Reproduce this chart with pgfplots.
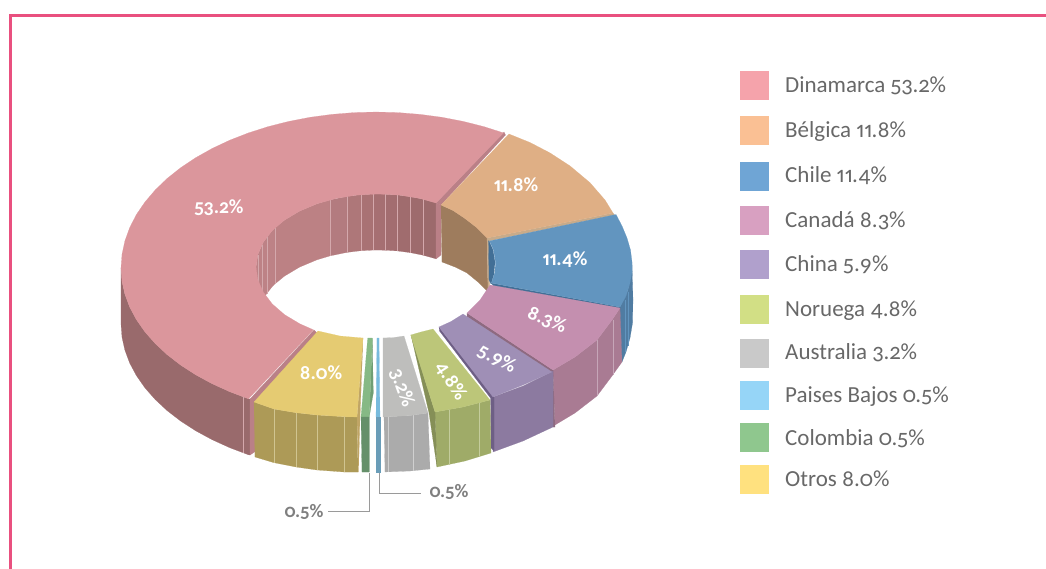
\documentclass[border=0pt]{standalone}
\usepackage{fontspec}
\setmainfont[Numbers={OldStyle,Proportional}]{Carlito}
\usepackage{pgfplots}
\pgfplotsset{compat=1.18}
\definecolor{frame}{HTML}{E9507F}
\definecolor{dtop}{HTML}{DB969C}\definecolor{dwall}{HTML}{996A6C}\definecolor{dcap}{HTML}{BA8087}\definecolor{dline}{HTML}{D4A8AC}
\definecolor{btop}{HTML}{DFAF85}\definecolor{bwall}{HTML}{9E7C5D}\definecolor{bcap}{HTML}{C8AB8A}
\definecolor{ctop}{HTML}{6295BF}\definecolor{cwall}{HTML}{507CA2}\definecolor{ccap}{HTML}{426F96}
\definecolor{atop}{HTML}{C48FAF}\definecolor{awall}{HTML}{A97B93}\definecolor{acap}{HTML}{8E6A80}\definecolor{aline}{HTML}{C6A6B8}
\definecolor{htop}{HTML}{9F8FB6}\definecolor{hwall}{HTML}{8C7AA0}\definecolor{hcap}{HTML}{6E5F85}
\definecolor{ntop}{HTML}{BCC679}\definecolor{nwall}{HTML}{9FAB68}\definecolor{ncap}{HTML}{858F57}\definecolor{nline}{HTML}{C4CC9C}
\definecolor{utop}{HTML}{BEBEBC}\definecolor{uwall}{HTML}{ABABAB}\definecolor{uline}{HTML}{D0D0D0}
\definecolor{ptop}{HTML}{78BBDD}\definecolor{pwall}{HTML}{6A9DB8}
\definecolor{ltop}{HTML}{86B985}\definecolor{lwall}{HTML}{65906A}\definecolor{lcap}{HTML}{6F9E74}
\definecolor{otop}{HTML}{E5CB72}\definecolor{owall}{HTML}{AD9A57}\definecolor{ocap}{HTML}{C0A565}\definecolor{oline}{HTML}{D0C490}
\definecolor{leg}{HTML}{686868}\definecolor{call}{HTML}{7F7F7F}\definecolor{callline}{HTML}{9A9A9A}
\definecolor{w1}{HTML}{BD8286}\definecolor{w2}{HTML}{BC8184}\definecolor{w3}{HTML}{B37B7F}\definecolor{w4}{HTML}{AE7779}\definecolor{w5}{HTML}{A97274}\definecolor{w6}{HTML}{A66F72}\definecolor{w7}{HTML}{A36D70}\definecolor{w8}{HTML}{A06C6E}\definecolor{w9}{HTML}{9E6B6D}\definecolor{w10}{HTML}{9C6A6C}
\definecolor{L1}{HTML}{F5A3AB}\definecolor{L2}{HTML}{FAC094}\definecolor{L3}{HTML}{6FA5D5}\definecolor{L4}{HTML}{D8A0C1}\definecolor{L5}{HTML}{B0A0CC}\definecolor{L6}{HTML}{D2DF85}\definecolor{L7}{HTML}{C9C9C9}\definecolor{L8}{HTML}{96D5F7}\definecolor{L9}{HTML}{8FC78E}\definecolor{L10}{HTML}{FFE17F}
\newcommand\poly[2]{\addplot[fill=#1,draw=#1,line width=.15pt] coordinates {#2} --cycle;}
\newcommand\seam[2]{\addplot[draw=#1,line width=.3pt] coordinates {#2};}
\newcommand\legtext[3]{\node[anchor=base west,inner sep=0pt,text=leg,font=\fontsize{23}{25}\selectfont] at (axis cs:785,#1) {#2 #3};}
\newcommand\lab[4]{\node[rotate=#4,text=white,font=\fontsize{20}{22}\selectfont\bfseries] at (axis cs:#1,#2) {#3};}
\begin{document}
\begin{tikzpicture}
\useasboundingbox (0,0) rectangle (1046pt,569pt);
\begin{axis}[at={(0,0)},anchor=south west,hide axis,scale only axis,width=1046pt,height=569pt,xmin=0,xmax=1046,ymin=0,ymax=569,y dir=reverse,clip=true]
% frame
\addplot[draw=frame,line width=2.4pt] coordinates {(10.5,569)(10.5,15.5)(1046,15.5)};
% Dinamarca inner wall
\poly{w1}{(256,267)(257.9,254.3)(263.4,242)(272.3,230.5)(275,227.9)(275,283.9)(272.3,286.5)(263.4,298)(256,295)}
\poly{w2}{(275,227.9)(284.5,220.1)(299.6,211.1)(317,203.8)(330,199.9)(330,255.9)(317,259.8)(299.6,267.1)(284.5,276.1)(275,283.9)}
\poly{w3}{(330,199.9)(347,196.4)(347,252.4)(330,255.9)}
\poly{w4}{(347,196.4)(361,194.7)(361,250.7)(347,252.4)}
\poly{w5}{(361,194.7)(373,194.1)(373,250.1)(361,250.7)}
\poly{w6}{(373,194.1)(385,194.2)(385,250.2)(373,250.1)}
\poly{w7}{(385,194.2)(397,194.9)(397,250.9)(385,250.2)}
\poly{w8}{(397,194.9)(410,196.6)(410,252.6)(397,250.9)}
\poly{w9}{(410,196.6)(423,199.2)(423,255.2)(410,252.6)}
\poly{w10}{(423,199.2)(436,202.8)(436,258.8)(423,255.2)}
\seam{dline}{(258,255)(258,300)}
\seam{dline}{(262,245)(262,300)}
\seam{dline}{(267,237)(267,294)}
\seam{dline}{(275,228)(275,284)}
\seam{dline}{(330,200)(330,256)}
\seam{dline}{(347,196.5)(347,252.5)}
\seam{dline}{(361,194.7)(361,250.7)}
\seam{dline}{(373,194.1)(373,250.1)}
\seam{dline}{(385,194.2)(385,250.2)}
\seam{dline}{(397,194.9)(397,250.9)}
\seam{dline}{(410,196.6)(410,252.6)}
\seam{dline}{(423,199.2)(423,255.2)}
% Dinamarca cap at inner wall
\poly{dcap}{(436,202.8)(441,205)(441,255)(436,259)}
% Dinamarca outer wall
\poly{dwall}{(121,268)(122,281.2)(124.9,294.2)(129.7,307.1)(136.4,319.6)(144.9,331.8)(155.2,343.5)(167.1,354.6)(180.7,365.1)(195.7,374.8)(212.1,383.7)(229.7,391.7)(248.5,398.8)(250,399)(250,455)(248.5,454.8)(229.7,447.7)(212.1,439.7)(195.7,430.8)(180.7,421.1)(167.1,410.6)(155.2,399.5)(144.9,387.8)(136.4,375.6)(129.7,363.1)(124.9,350.2)(122,337.2)(121,324)}
\seam{dline}{(243.5,397)(243.5,453)}
% Dinamarca front cap
\poly{dcap}{(314,330)(317,333)(256,403)(256,451)(250,455)(250,399)}
% Dinamarca end strip
\poly{dcap}{(504,132)(505.5,135)(441,205)(436,203)}
% Dinamarca top
\poly{dtop}{(503.5,132.9)(483.8,126.6)(463.2,121.4)(442,117.3)(420.3,114.4)(398.2,112.6)(376,112)(353.8,112.6)(331.7,114.4)(310,117.3)(288.8,121.4)(268.2,126.6)(248.5,132.9)(229.7,140.2)(212.1,148.5)(195.7,157.7)(180.7,167.7)(167.1,178.5)(155.2,190)(144.9,202.1)(136.4,214.6)(129.7,227.6)(124.9,240.9)(122,254.4)(121,268)(122,281.2)(124.9,294.2)(129.7,307.1)(136.4,319.6)(144.9,331.8)(155.2,343.5)(167.1,354.6)(180.7,365.1)(195.7,374.8)(212.1,383.7)(229.7,391.7)(248.5,398.8)(313.4,329.8)(299.6,323.7)(284.5,314.6)(272.3,304)(263.4,292.3)(257.9,279.9)(256,267)(257.9,254.3)(263.4,242)(272.3,230.5)(284.5,220.1)(299.6,211.1)(317,203.8)(336.3,198.4)(356.8,195.1)(378,194)(399.2,195.1)(419.7,198.4)(436,203)}
% Belgica
\poly{bwall}{(441,205)(453,210.5)(464.3,218)(476,227)(487,238)(488,292)(478,282)(467,273)(455,267)(442,262)}
\poly{bcap}{(487,238)(489.5,240)(489.5,292)(488,292)}
% Chile wall (behind Canada)
\poly{ccap}{(488.5,240)(493,250)(495,262)(494,274)(491,284)(489,280)}
\poly{cwall}{(632,265)(633,300)(632.5,323)(630,338)(626,352)(622,362)(616,340)(620,307)(628,290)}
\seam{ctop}{(625,300)(625,352)}
\seam{ctop}{(628,292)(628,346)}
% Belgica top
\poly{bcap}{(487,238)(613,213)(614.5,215)(489,241)}
\poly{btop}{(441,205)(453,210.5)(464.3,218)(476,227)(487,238)(613,213)(605,200)(590,182.7)(570,165.9)(550,152.9)(530,142.5)(509,134)}
% Chile top
\poly{ccap}{(491,283)(620,307)(620,310.5)(494,286.5)}
\poly{ctop}{(489.5,241)(616,214.5)(622,226)(627,238)(630.5,250)(632,262)(632,272)(630,283)(626,296)(620,307)(491.5,283)(495,272)(495.5,262)(493.5,250)}
% Canada
\poly{awall}{(553,370)(575,357)(597,340)(612,320)(620,308)(622,362)(612,376)(597,396)(575,413)(555,425)}
\seam{aline}{(597,340)(597,396)}
\seam{aline}{(613,320)(613,375)}
\poly{acap}{(467,313)(553,370)(555,427)(553,427)(551,372.5)(467,317)}
\poly{atop}{(467,313)(480,300)(490,285)(620,308)(612,320)(597,340)(575,357)(553,370)}
% China
\poly{hwall}{(493,397)(523,386)(553,371)(553,427)(523,441)(493,452)}
\poly{hcap}{(439,327)(494,397)(494,451)(491,448)(490.5,398)(439.5,331)}
\poly{htop}{(439,327)(451,321.5)(463,314)(552,372)(523,385)(493,397)}
% Noruega
\poly{nwall}{(435,412)(463,407)(490,400)(491,453)(465,461)(437,467)}
\seam{nline}{(449,410)(449,465)}
\seam{nline}{(479,403)(479,456)}
\poly{ncap}{(411,335)(435,412)(437,467)(429,413)}
\poly{ntop}{(410.7,335)(421,332)(433,329)(490,400)(463,407)(435,412)}
% Australia
\poly{uwall}{(384,417)(410,415.5)(428,413)(430,469)(410,471)(385,472)}
\seam{uline}{(388,417)(388,472)}
\seam{uline}{(413,415)(413,470.5)}
\poly{utop}{(383,338)(394,337.5)(404,336)(428,413)(410,415.5)(383,417)}
% Paises Bajos
\poly{ptop}{(377,338)(379,338)(380,417)(376,417)}
\poly{pwall}{(375.7,417)(380,417)(380,472)(375.7,472)}
% Colombia
\poly{lcap}{(372.3,338.3)(373.3,393)(369.3,416.7)}
\poly{ltop}{(367.7,338)(372.3,338)(369.3,417)(361,417)}
\poly{lwall}{(361,417)(369.3,417)(369.3,472)(362,472)}
% Otros
\poly{owall}{(254,402)(274,409)(296,412.7)(317,415)(344,416.7)(357,417)(358,472)(344,472)(317,470)(296,467)(274,462.7)(255,457)}
\poly{ocap}{(363,338)(360,417)(358.5,472)(357,417)}
\seam{oline}{(274,409)(274,462.7)}
\seam{oline}{(296,412.7)(296,467)}
\seam{oline}{(317,415)(317,470)}
\seam{oline}{(344,416.7)(344,472)}
\poly{otop}{(318,331)(340,336)(363,338)(357,417)(344,416.7)(317,415)(296,412.7)(274,409)(254,402)}
% callouts
\addplot[draw=callline,line width=.8pt] coordinates {(328,511)(369,511)(369,473)};
\addplot[draw=callline,line width=.8pt] coordinates {(379.5,473)(379.5,493)(421,493)};
\node[text=call,font=\fontsize{19}{21}\selectfont\bfseries] at (axis cs:304,512) {0.5\%};
\node[text=call,font=\fontsize{19}{21}\selectfont\bfseries] at (axis cs:449,492) {0.5\%};
% labels
\lab{219}{208}{53.2\%}{0}
\lab{516}{185}{11.8\%}{0}
\lab{565}{260}{11.4\%}{0}
\lab{547}{320}{8.3\%}{-24}
\lab{497}{359}{5.9\%}{-28}
\lab{451}{381}{4.8\%}{-57}
\lab{402}{388}{3.2\%}{-70}
\lab{321}{373}{8.0\%}{0}
% legend
\poly{L1}{(740,71)(768,71)(768,99)(740,99)}
\poly{L2}{(740,116)(768,116)(768,144)(740,144)}
\poly{L3}{(740,162)(768,162)(768,190)(740,190)}
\poly{L4}{(740,206)(768,206)(768,234)(740,234)}
\poly{L5}{(740,250)(768,250)(768,278)(740,278)}
\poly{L6}{(740,295)(768,295)(768,323)(740,323)}
\poly{L7}{(740,339)(768,339)(768,367)(740,367)}
\poly{L8}{(740,381)(768,381)(768,409)(740,409)}
\poly{L9}{(740,423)(768,423)(768,451)(740,451)}
\poly{L10}{(740,465)(768,465)(768,493)(740,493)}
\legtext{92.7}{Dinamarca}{53.2\%}
\legtext{137.5}{Bélgica}{11.8\%}
\legtext{183}{Chile}{11.4\%}
\legtext{227.5}{Canadá}{8.3\%}
\legtext{271}{China}{5.9\%}
\legtext{316.7}{Noruega}{4.8\%}
\legtext{359.7}{Australia}{3.2\%}
\legtext{402}{Paises Bajos}{0.5\%}
\legtext{445}{Colombia}{0.5\%}
\legtext{486}{Otros}{8.0\%}
\end{axis}
\end{tikzpicture}
\end{document}
